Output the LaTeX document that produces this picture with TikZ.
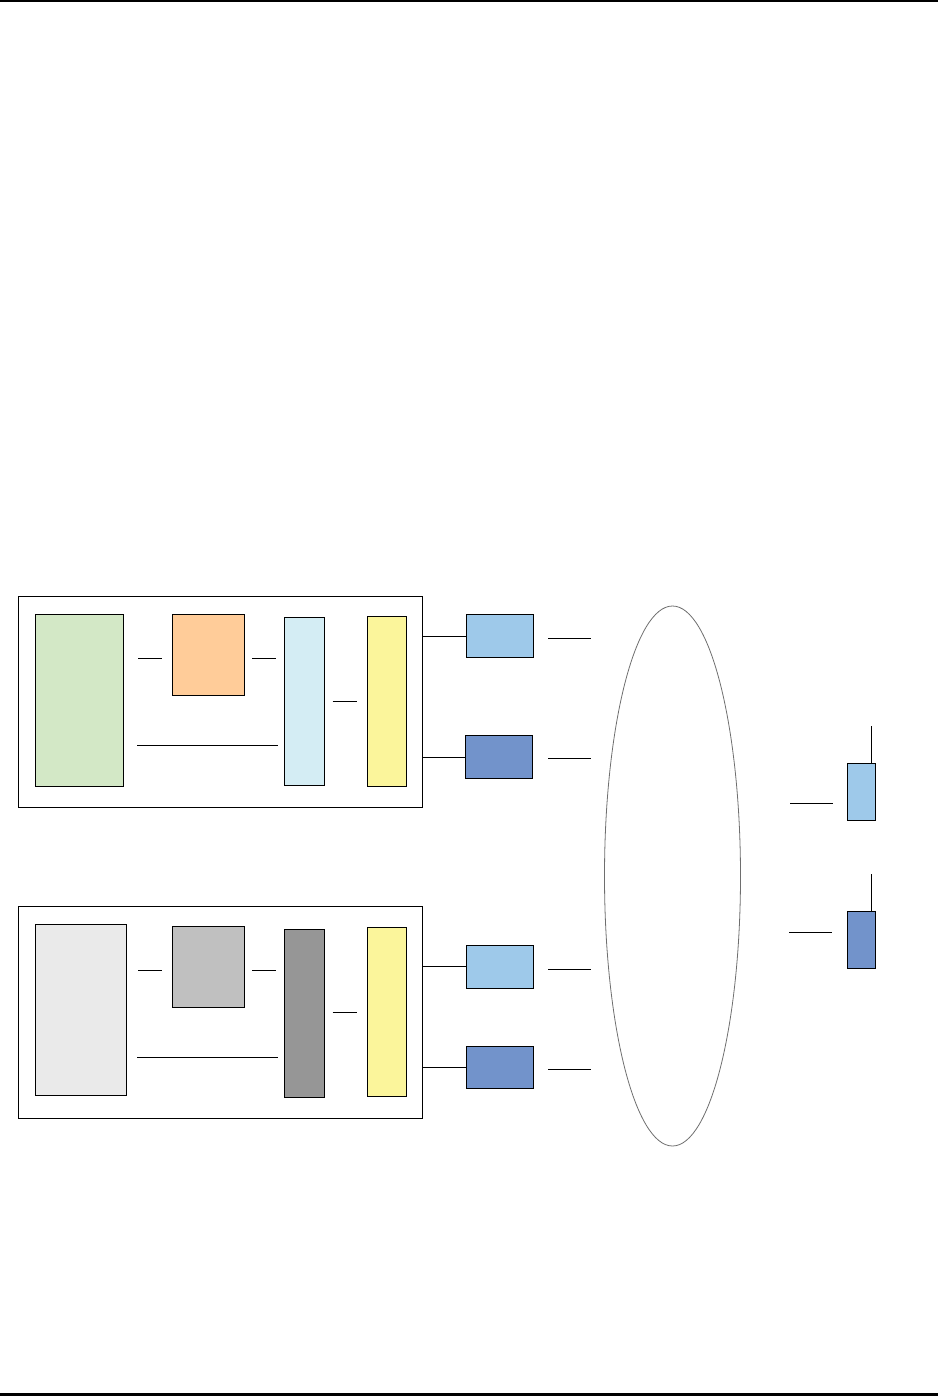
\documentclass[tikz,border=0pt]{standalone}
\usetikzlibrary{fit,shapes.geometric}
\definecolor{cgreen}{RGB}{211,232,198}
\definecolor{corange}{RGB}{255,204,153}
\definecolor{ccyan}{RGB}{212,237,244}
\definecolor{cyellow}{RGB}{251,245,155}
\definecolor{clblue}{RGB}{158,201,234}
\definecolor{cdblue}{RGB}{114,147,203}
\definecolor{clgrey}{RGB}{234,234,234}
\definecolor{cgrey}{RGB}{192,192,192}
\definecolor{cdgrey}{RGB}{150,150,150}
\definecolor{cell}{RGB}{110,110,110}
\begin{document}
\begin{tikzpicture}[x=1pt,y=-1pt,
  blk/.style={draw=black,line width=1pt,inner sep=0pt,rectangle},
  frame/.style={draw=black,line width=1pt,inner sep=0pt,rectangle},
  wire/.style={draw=black,line width=1pt},
  rule/.style={draw=black,line width=2.4pt}]
\useasboundingbox (0,0) rectangle (946,1398);
% page rules
\draw[rule] (0,1.2) -- (938,1.2);
\draw[rule] (0,1394.5) -- (938,1394.5);
% upper container
\node[frame,fit={(18.5,596) (422.5,807)}] (c1) {};
\node[blk,fill=cgreen,fit={(35.5,614.5) (123.5,786)}] (g1) {};
\node[blk,fill=corange,fit={(172.5,614.5) (244.5,695)}] (o1) {};
\node[blk,fill=ccyan,fit={(284.5,617.5) (324.5,785)}] (m1) {};
\node[blk,fill=cyellow,fit={(367.5,616.5) (406.5,786)}] (y1) {};
\node[blk,fill=clblue,fit={(466.5,614.5) (533.5,657.5)}] (lb1) {};
\node[blk,fill=cdblue,fit={(465.5,735.5) (532.5,778.5)}] (db1) {};
% lower container
\node[frame,fit={(18.5,906) (422.5,1118)}] (c2) {};
\node[blk,fill=clgrey,fit={(35.5,924.5) (126.5,1095)}] (g2) {};
\node[blk,fill=cgrey,fit={(172.5,926.5) (244.5,1007)}] (o2) {};
\node[blk,fill=cdgrey,fit={(284.5,929.5) (324.5,1097)}] (m2) {};
\node[blk,fill=cyellow,fit={(367.5,927.5) (406.5,1096)}] (y2) {};
\node[blk,fill=clblue,fit={(466.5,945.5) (533.5,988)}] (lb2) {};
\node[blk,fill=cdblue,fit={(466.5,1046.5) (533.5,1088)}] (db2) {};
% ellipse
\node[draw=cell,line width=0.8pt,ellipse,inner sep=0pt,minimum width=136pt,minimum height=540pt] (net) at (672.5,876) {};
% right boxes
\node[blk,fill=clblue,fit={(847.5,763.5) (875.5,820.5)}] (r1) {};
\node[blk,fill=cdblue,fit={(847.5,911.5) (875.5,968.5)}] (r2) {};
% free line ends
\coordinate (u1a) at (138,658.3); \coordinate (u1b) at (162,658.3);
\coordinate (u2a) at (252,658.3); \coordinate (u2b) at (276,658.3);
\coordinate (u3a) at (332.7,701.3); \coordinate (u3b) at (356.7,701.3);
\coordinate (u4a) at (137,745.3); \coordinate (u4b) at (278,745.3);
\coordinate (u5a) at (548.3,638.3); \coordinate (u5b) at (591,638.3);
\coordinate (u6a) at (548.3,758.3); \coordinate (u6b) at (591,758.3);
\coordinate (l1a) at (138,970.3); \coordinate (l1b) at (162,970.3);
\coordinate (l2a) at (252,970.3); \coordinate (l2b) at (276,970.3);
\coordinate (l3a) at (332.7,1012.3); \coordinate (l3b) at (356.7,1012.3);
\coordinate (l4a) at (137,1057); \coordinate (l4b) at (278,1057);
\coordinate (l5a) at (548.3,969.3); \coordinate (l5b) at (591,969.3);
\coordinate (l6a) at (548.3,1069.3); \coordinate (l6b) at (591,1069.3);
\coordinate (ra1) at (871.3,726); \coordinate (ra2) at (871.3,874);
\coordinate (rl1a) at (790,803.3); \coordinate (rl1b) at (832.7,803.3);
\coordinate (rl2a) at (789,932.3); \coordinate (rl2b) at (831.7,932.3);
% wires
\foreach \p in {u1,u2,u3,u4,u5,u6,l1,l2,l3,l4,l5,l6,rl1,rl2}
  \draw[wire] (\p a) -- (\p b);
\draw[wire] (c1.east |- lb1.west) -- (lb1.west);
\draw[wire] (c1.east |- db1.west) -- (db1.west);
\draw[wire] (c2.east |- lb2.west) -- (lb2.west);
\draw[wire] (c2.east |- db2.west) -- (db2.west);
\draw[wire] (ra1) -- (ra1 |- r1.north);
\draw[wire] (ra2) -- (ra2 |- r2.north);
\end{tikzpicture}
\end{document}
